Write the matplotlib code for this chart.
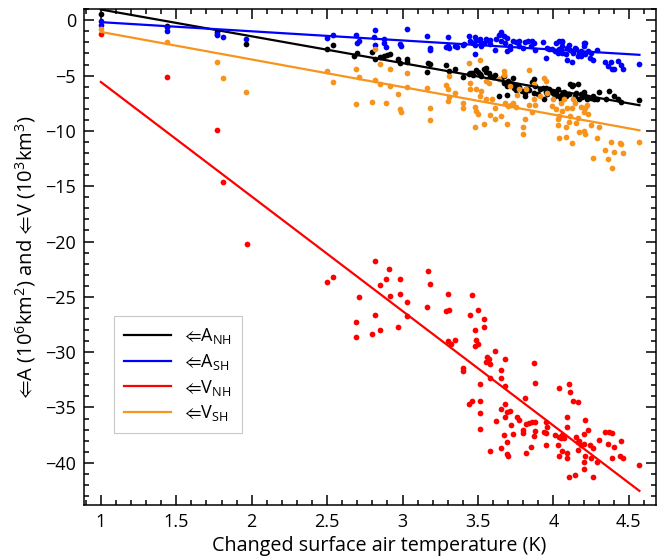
import numpy as np
import matplotlib
matplotlib.use("Agg")
import matplotlib.pyplot as plt
from matplotlib.ticker import MultipleLocator

# === DATA ===
# (temperature change K, value)
anh_pts = [
    (1.00, 0.6), (1.44, -0.55), (1.77, -1.1), (1.96, -2.1), (2.50, -2.6), (2.54, -2.2),
    (2.68, -3.24), (2.70, -2.94), (2.80, -2.88), (2.82, -3.54),
    (2.85, -3.30), (2.88, -3.24), (2.90, -3.18), (2.92, -3.09), (2.97, -3.54), (2.98, -3.84),
    (3.03, -3.48), (3.03, -3.78), (3.17, -3.84), (3.18, -3.99), (3.16, -4.68), (3.29, -4.05),
    (3.31, -4.59), (3.35, -4.44), (3.40, -5.10), (3.44, -4.89), (3.45, -4.74), (3.46, -4.80),
    (3.47, -4.98), (3.49, -4.50), (3.50, -4.68), (3.51, -4.89), (3.52, -5.04), (3.54, -4.44),
    (3.55, -4.29), (3.55, -4.68), (3.57, -4.80), (3.58, -5.04), (3.60, -5.10), (3.61, -4.98),
    (3.64, -6.84), (3.65, -5.34), (3.67, -5.64), (3.67, -5.04), (3.69, -5.94), (3.69, -6.78),
    (3.70, -5.49), (3.71, -5.64), (3.73, -5.19), (3.73, -5.79), (3.74, -6.09), (3.75, -6.30),
    (3.76, -5.88), (3.77, -6.00), (3.79, -6.39), (3.81, -6.54), (3.81, -6.84), (3.82, -6.18),
    (3.83, -6.24), (3.84, -6.30), (3.86, -5.58), (3.87, -5.34), (3.87, -6.54), (3.88, -5.94),
    (3.90, -6.69), (3.91, -6.24), (3.93, -6.09), (3.94, -7.14), (3.95, -6.48), (3.95, -6.09),
    (3.96, -6.69), (3.97, -6.24), (3.98, -6.39), (4.00, -6.60), (4.01, -6.84), (4.02, -6.48),
    (4.03, -6.18), (4.04, -6.84), (4.05, -7.14), (4.06, -6.69), (4.06, -6.90), (4.07, -6.48),
    (4.08, -6.84), (4.10, -6.69), (4.11, -5.79), (4.12, -5.94), (4.13, -5.88), (4.14, -6.84),
    (4.15, -6.54), (4.16, -5.79), (4.17, -7.08), (4.18, -6.69), (4.19, -6.90), (4.20, -6.48),
    (4.21, -6.84), (4.22, -7.08), (4.23, -6.90), (4.25, -6.99), (4.26, -6.84), (4.27, -7.14),
    (4.29, -7.14), (4.30, -6.48), (4.35, -7.14), (4.37, -6.39), (4.40, -6.84), (4.43, -7.14),
    (4.45, -7.38), (4.57, -7.23),
]

ash_pts = [
    (1.00, -0.1), (1.00, -0.4), (1.44, -0.63), (1.44, -0.93), (1.77, -1.2), (1.77, -1.35),
    (1.81, -1.5), (1.96, -1.65), (2.50, -1.6), (2.54, -1.3), (2.69, -1.29), (2.70, -2.04),
    (2.71, -1.89), (2.82, -0.90), (2.81, -1.53), (2.82, -2.19),
    (2.88, -1.68), (2.88, -2.04), (2.89, -2.43), (2.98, -2.13), (2.99, -2.34), (3.03, -0.83),
    (3.16, -1.38), (3.18, -2.49), (3.18, -2.70), (3.29, -2.43), (3.30, -1.50), (3.30, -2.34),
    (3.31, -2.49), (3.35, -2.34), (3.36, -2.43), (3.40, -2.25), (3.41, -2.13), (3.44, -1.38),
    (3.45, -1.83), (3.47, -2.04), (3.48, -1.52), (3.48, -3.03), (3.48, -2.19), (3.49, -1.74),
    (3.51, -1.65), (3.51, -1.89), (3.52, -2.34), (3.54, -2.04), (3.55, -1.65), (3.57, -1.89),
    (3.58, -1.74), (3.58, -2.13), (3.61, -2.70), (3.62, -1.65), (3.64, -1.35), (3.65, -1.05),
    (3.65, -1.28), (3.65, -1.89), (3.67, -1.44), (3.68, -2.04), (3.69, -1.59), (3.69, -2.79),
    (3.71, -2.34), (3.71, -2.64), (3.73, -1.89), (3.75, -1.95), (3.77, -1.89), (3.77, -2.34),
    (3.80, -2.49), (3.81, -1.95), (3.83, -1.89), (3.85, -2.34), (3.86, -1.89), (3.87, -2.04),
    (3.88, -2.70), (3.93, -1.98), (3.95, -3.45), (3.96, -2.49), (3.97, -2.58), (3.99, -2.64),
    (4.01, -2.79), (4.02, -2.04), (4.03, -2.94), (4.04, -1.89), (4.04, -2.64), (4.06, -1.98),
    (4.06, -2.34), (4.06, -1.89), (4.06, -2.94), (4.08, -3.09), (4.09, -3.60), (4.09, -2.49),
    (4.10, -2.19), (4.11, -2.70), (4.12, -3.78), (4.13, -2.94), (4.14, -2.49), (4.15, -2.64),
    (4.16, -3.24), (4.17, -2.94), (4.18, -3.24), (4.18, -2.79), (4.20, -2.04), (4.20, -2.34),
    (4.21, -2.04), (4.21, -3.03), (4.23, -2.79), (4.24, -3.39), (4.25, -2.94), (4.26, -3.60),
    (4.29, -2.70), (4.34, -3.78), (4.36, -4.14), (4.38, -3.75), (4.39, -4.44), (4.40, -4.44),
    (4.43, -3.69), (4.45, -4.08), (4.46, -4.44), (4.57, -3.99),
]

vnh_pts = [
    (1.00, -1.2), (1.44, -5.1), (1.77, -9.9), (1.81, -14.6), (1.97, -20.2),
    (2.50, -23.7), (2.54, -23.2), (2.82, -21.8), (2.91, -22.5), (2.89, -23.4), (2.98, -23.4),
    (2.85, -23.9), (2.71, -25.0), (2.92, -24.9), (2.98, -24.7), (3.03, -25.5), (3.17, -22.7),
    (3.18, -23.8), (3.16, -25.9), (3.30, -24.7), (3.31, -26.2), (3.29, -26.3), (3.46, -24.8),
    (3.50, -26.2), (3.45, -26.6), (3.54, -27.0), (3.54, -27.7), (3.48, -28.0), (3.49, -28.9),
    (3.50, -29.3), (3.48, -29.4), (2.69, -27.3), (2.69, -28.6), (2.82, -26.6), (2.85, -28.0),
    (2.80, -28.4), (2.97, -27.7), (3.03, -26.7), (3.30, -29.0), (3.32, -29.3), (3.35, -28.9),
    (3.40, -31.4), (3.40, -31.7), (3.56, -30.4), (3.57, -30.6), (3.58, -31.1), (3.55, -30.9),
    (3.61, -29.9), (3.68, -30.6), (3.65, -31.6), (3.65, -32.3), (3.58, -32.3), (3.51, -32.9),
    (3.44, -34.7), (3.46, -34.4), (3.51, -34.4), (3.51, -35.5), (3.51, -36.9), (3.68, -33.1),
    (3.87, -31.0), (3.88, -32.8), (4.04, -33.2), (4.10, -32.9), (4.11, -33.6), (4.13, -34.4),
    (4.16, -34.5), (3.81, -34.1), (3.65, -35.1), (3.68, -34.7), (3.69, -35.4), (3.71, -35.3),
    (3.68, -35.9), (3.62, -36.2), (3.76, -35.9), (3.77, -36.1), (3.72, -36.6), (3.73, -37.4),
    (3.67, -37.5), (3.69, -38.1), (3.58, -38.9), (3.65, -38.7), (3.69, -39.2), (3.70, -39.4),
    (3.82, -39.1), (3.85, -38.6), (3.80, -37.0), (3.80, -37.3), (3.82, -36.5), (3.84, -36.4),
    (3.86, -36.3), (3.88, -36.3), (3.88, -37.1), (3.87, -37.6), (3.94, -37.2), (3.95, -37.3),
    (3.95, -36.3), (3.96, -36.8), (3.95, -38.4), (4.01, -37.5), (4.03, -38.4), (4.04, -37.7),
    (4.05, -37.8), (4.06, -37.5), (4.07, -37.8), (4.09, -36.8), (4.09, -35.9), (4.06, -38.9),
    (4.04, -39.4), (4.09, -39.6), (4.09, -39.1), (4.15, -37.7), (4.16, -38.1), (4.17, -38.0),
    (4.18, -38.4), (4.16, -38.8), (4.20, -38.3), (4.21, -36.1), (4.20, -37.4), (4.23, -37.0),
    (4.21, -39.4), (4.20, -39.9), (4.20, -40.6), (4.24, -38.4), (4.26, -38.7), (4.25, -39.6),
    (4.29, -39.9), (4.30, -37.9), (4.34, -37.2), (4.37, -37.2), (4.39, -37.3), (4.36, -38.3),
    (4.40, -38.6), (4.45, -38.0), (4.39, -39.6), (4.44, -39.4), (4.46, -39.6), (4.57, -40.2),
    (4.10, -41.3), (4.14, -41.1), (4.26, -41.3),
]

vsh_pts = [
    (1.00, -0.75), (1.44, -2.0), (1.77, -3.8), (1.81, -5.25), (1.96, -6.45), (2.50, -4.6),
    (2.54, -5.6), (2.69, -4.38), (2.69, -7.59), (2.71, -5.14), (2.80, -7.39), (2.82, -5.43),
    (2.82, -2.64),
    (2.85, -3.93), (2.85, -5.79), (2.89, -7.50), (2.92, -4.44), (2.92, -5.94), (2.97, -6.69),
    (2.98, -8.04), (2.99, -8.28), (3.03, -4.80), (3.03, -6.00), (3.16, -6.09), (3.18, -7.89),
    (3.18, -9.00), (3.29, -5.88), (3.30, -6.18), (3.30, -7.29), (3.31, -5.04), (3.31, -6.90),
    (3.35, -6.60), (3.40, -7.50), (3.40, -7.89), (3.44, -3.84), (3.45, -5.64), (3.45, -6.24),
    (3.48, -9.69), (3.48, -7.83), (3.49, -6.24), (3.49, -8.19), (3.50, -8.49), (3.51, -6.84),
    (3.51, -3.63), (3.52, -6.39), (3.54, -9.39), (3.55, -7.08), (3.55, -5.49), (3.57, -5.70),
    (3.58, -8.58), (3.59, -7.08), (3.61, -8.94), (3.61, -7.89), (3.64, -5.34), (3.65, -8.64),
    (3.67, -4.59), (3.67, -4.98), (3.68, -7.44), (3.69, -9.39), (3.70, -7.74), (3.71, -5.94),
    (3.72, -7.68), (3.73, -7.50), (3.75, -7.80), (3.76, -6.78), (3.77, -6.24), (3.80, -9.69),
    (3.80, -10.29), (3.81, -8.94), (3.82, -6.24), (3.84, -4.50), (3.84, -7.68), (3.86, -8.28),
    (3.87, -5.79), (3.87, -7.14), (3.88, -7.68), (3.91, -6.84), (3.94, -5.19), (3.95, -5.49),
    (3.96, -6.60), (3.99, -7.74), (4.00, -7.14), (4.02, -7.98), (4.03, -8.94), (4.03, -9.48),
    (4.04, -10.60), (4.04, -8.64), (4.05, -7.44), (4.06, -8.19), (4.07, -7.14), (4.08, -9.69),
    (4.08, -10.51), (4.09, -7.89), (4.10, -9.18), (4.11, -8.64), (4.12, -7.89), (4.12, -11.11),
    (4.13, -7.14), (4.14, -7.44), (4.15, -9.24), (4.16, -8.79), (4.17, -10.14), (4.18, -7.80),
    (4.20, -8.28), (4.20, -9.99), (4.21, -10.29), (4.21, -7.89), (4.22, -7.68), (4.23, -8.49),
    (4.25, -9.48), (4.26, -12.46), (4.29, -10.60), (4.30, -9.63), (4.34, -11.71), (4.36, -12.55),
    (4.38, -10.99), (4.39, -13.39), (4.40, -11.89), (4.44, -11.05), (4.45, -11.20), (4.46, -12.01),
    (4.57, -10.99),
]

series_labels = ["$⇐$A$_{\\mathregular{NH}}$", "$⇐$A$_{\\mathregular{SH}}$",
                 "$⇐$V$_{\\mathregular{NH}}$", "$⇐$V$_{\\mathregular{SH}}$"]
series_colors = ["black", "#0000ff", "#ff0000", "#f7941d"]

x_ticks = [1, 1.5, 2, 2.5, 3, 3.5, 4, 4.5]
x_tick_labels = ["1", "1.5", "2", "2.5", "3", "3.5", "4", "4.5"]
y_ticks = [0, -5, -10, -15, -20, -25, -30, -35, -40]

# === STYLE ===
plt.rcParams['font.family'] = ['Open Sans', 'DejaVu Sans']
plt.rcParams['mathtext.fontset'] = 'custom'
plt.rcParams['mathtext.rm'] = 'Open Sans'
plt.rcParams['mathtext.fallback'] = 'stixsans'
plt.rcParams['font.size'] = 13

fig = plt.figure(figsize=(6.58, 5.56), dpi=100)
ax = fig.add_axes([0.128, 0.092, 0.869, 0.892])

# === SCATTER + FITTED LINES ===
all_pts = [anh_pts, ash_pts, vnh_pts, vsh_pts]
for pts, color in zip(all_pts, series_colors):
    xy = np.array(pts)
    ax.scatter(xy[:, 0], xy[:, 1], s=17, color=color, linewidths=0, zorder=2)

for pts, color, label in zip(all_pts, series_colors, series_labels):
    xy = np.array(pts)
    slope, intercept = np.polyfit(xy[:, 0], xy[:, 1], 1)
    xs = np.array([xy[:, 0].min(), xy[:, 0].max()])
    ax.plot(xs, slope * xs + intercept, color=color, lw=1.6, label=label, zorder=3)

# === AXES ===
ax.set_xlim(0.89, 4.68)
ax.set_ylim(-43.8, 1.03)
ax.set_xticks(x_ticks)
ax.set_xticklabels(x_tick_labels)
ax.set_yticks(y_ticks)
ax.xaxis.set_minor_locator(MultipleLocator(0.1))
ax.yaxis.set_minor_locator(MultipleLocator(1))
ax.tick_params(which='both', direction='in', top=True, right=True, width=1.1)
ax.tick_params(which='major', length=7, labelsize=13, pad=6)
ax.tick_params(which='minor', length=3.5)
for sp in ax.spines.values():
    sp.set_linewidth(1.1)

ax.set_xlabel("Changed surface air temperature (K)", fontsize=14.2)
ax.xaxis.set_label_coords(0.515, -0.062)
ax.set_ylabel("$⇐$A (10$^{\\mathregular{6}}$km$^{\\mathregular{2}}$) and "
              "$⇐$V (10$^{\\mathregular{3}}$km$^{\\mathregular{3}}$)", fontsize=14.5, labelpad=5)

leg = ax.legend(loc='lower left', bbox_to_anchor=(0.037, 0.126), fontsize=13,
                handlelength=2.6, handletextpad=0.7, labelspacing=0.32,
                fancybox=False, borderpad=0.55)
leg.get_frame().set_edgecolor('#bbbbbb')
leg.get_frame().set_linewidth(0.8)

fig.savefig("out.png", dpi=100)
